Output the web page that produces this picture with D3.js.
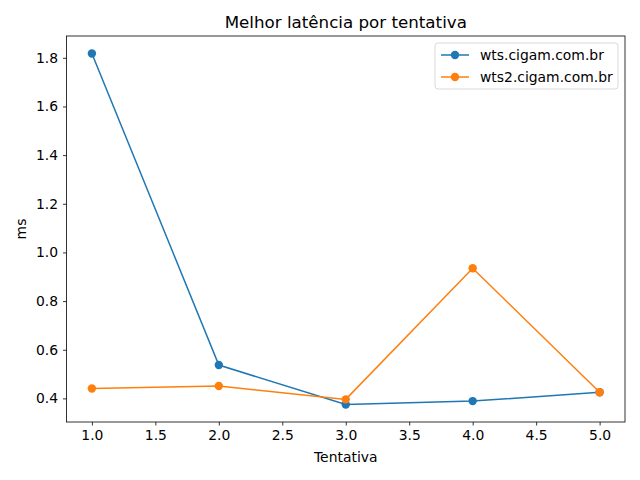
<!DOCTYPE html>
<html>
<head>
<meta charset="utf-8">
<script src="https://cdn.jsdelivr.net/npm/d3@7"></script>
<style>
  body { margin: 0; background: #fff; }
  text { font-family: "DejaVu Sans", sans-serif; }
</style>
</head>
<body>
<div id="chart"></div>
<script>
// data
var tentativas = [1, 2, 3, 4, 5];
var wtsValues = [1.8175, 0.537, 0.375, 0.389, 0.425];
var wts2Values = [0.441, 0.451, 0.396, 0.935, 0.425];
var seriesNames = ["wts.cigam.com.br", "wts2.cigam.com.br"];
var seriesColors = ["#1f77b4", "#ff7f0e"];
var xTicks = [1.0, 1.5, 2.0, 2.5, 3.0, 3.5, 4.0, 4.5, 5.0];
var yTicks = [0.4, 0.6, 0.8, 1.0, 1.2, 1.4, 1.6, 1.8];

var svgWidth = 640;
var svgHeight = 480;
var margin = { top: 36, right: 15, bottom: 58, left: 66.5 };
var width = svgWidth - margin.left - margin.right;
var height = svgHeight - margin.top - margin.bottom;

var svg = d3.select("#chart")
    .append("svg")
    .attr("width", svgWidth)
    .attr("height", svgHeight);

var chartGroup = svg.append("g")
    .attr("transform", `translate(${margin.left}, ${margin.top})`);

var xScale = d3.scaleLinear()
    .domain([0.8, 5.2])
    .range([0, width]);

var yScale = d3.scaleLinear()
    .domain([0.303, 1.8896])
    .range([height, 0]);

var bottomAxis = d3.axisBottom(xScale)
    .tickValues(xTicks)
    .tickFormat(d3.format(".1f"))
    .tickSize(3.5)
    .tickPadding(4.9);
var leftAxis = d3.axisLeft(yScale)
    .tickValues(yTicks)
    .tickFormat(d3.format(".1f"))
    .tickSize(3.5)
    .tickPadding(4.9);

var xAxis = chartGroup.append("g")
    .attr("transform", `translate(0, ${height})`)
    .call(bottomAxis);
var yAxis = chartGroup.append("g")
    .call(leftAxis);

[xAxis, yAxis].forEach(function(ax) {
    ax.select(".domain").remove();
    ax.selectAll("line").attr("stroke", "#000").attr("stroke-width", 0.8);
    ax.selectAll("text")
        .attr("font-family", "DejaVu Sans")
        .attr("font-size", "13.9px")
        .attr("fill", "#000");
});

// frame
chartGroup.append("rect")
    .attr("x", 0)
    .attr("y", 0)
    .attr("width", width)
    .attr("height", height)
    .attr("fill", "none")
    .attr("stroke", "#000")
    .attr("stroke-width", 0.8);

var allSeries = [wtsValues, wts2Values];

var line = d3.line()
    .x((d, i) => xScale(tentativas[i]))
    .y(d => yScale(d));

allSeries.forEach(function(values, s) {
    chartGroup.append("path")
        .datum(values)
        .attr("d", line)
        .attr("fill", "none")
        .attr("stroke", seriesColors[s])
        .attr("stroke-width", 1.5);

    chartGroup.selectAll(".pt" + s)
        .data(values)
        .enter()
        .append("circle")
        .attr("cx", (d, i) => xScale(tentativas[i]))
        .attr("cy", d => yScale(d))
        .attr("r", 4.2)
        .attr("fill", seriesColors[s]);
});

// title and labels
svg.append("text")
    .attr("x", margin.left + width / 2)
    .attr("y", 28)
    .attr("text-anchor", "middle")
    .attr("font-size", "16.7px")
    .text("Melhor latência por tentativa");

svg.append("text")
    .attr("x", margin.left + width / 2)
    .attr("y", 462)
    .attr("text-anchor", "middle")
    .attr("font-size", "13.9px")
    .text("Tentativa");

svg.append("text")
    .attr("transform", `translate(26, ${margin.top + height / 2}) rotate(-90)`)
    .attr("text-anchor", "middle")
    .attr("font-size", "13.9px")
    .text("ms");

// legend
var legend = svg.append("g")
    .attr("transform", "translate(435, 43)");

legend.append("rect")
    .attr("width", 183)
    .attr("height", 46)
    .attr("rx", 3)
    .attr("fill", "#fff")
    .attr("fill-opacity", 0.8)
    .attr("stroke", "#d9d9d9")
    .attr("stroke-width", 1);

seriesNames.forEach(function(name, i) {
    var yy = 12 + i * 22;
    legend.append("line")
        .attr("x1", 6)
        .attr("x2", 34)
        .attr("y1", yy)
        .attr("y2", yy)
        .attr("stroke", seriesColors[i])
        .attr("stroke-width", 1.5);
    legend.append("circle")
        .attr("cx", 20)
        .attr("cy", yy)
        .attr("r", 4.2)
        .attr("fill", seriesColors[i]);
    legend.append("text")
        .attr("x", 45)
        .attr("y", yy + 5)
        .attr("font-size", "13.9px")
        .text(name);
});
</script>
</body>
</html>
